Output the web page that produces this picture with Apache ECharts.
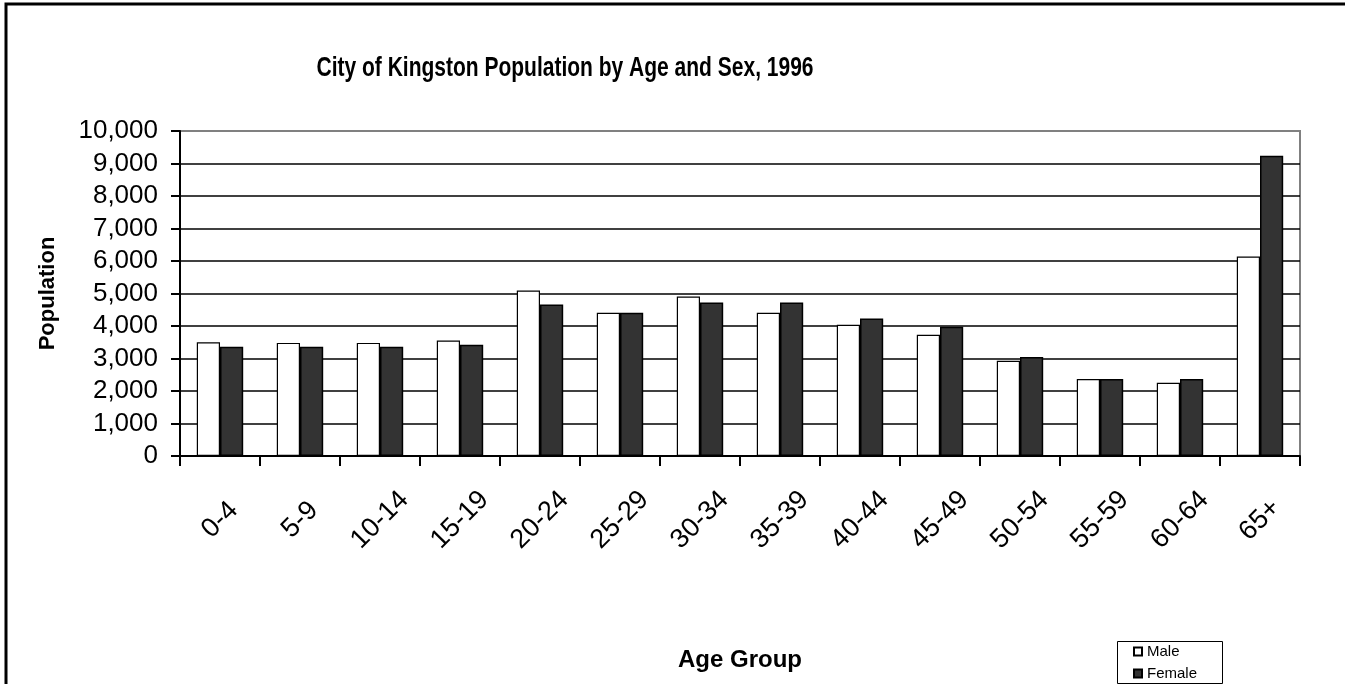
<!DOCTYPE html>
<html>
<head>
<meta charset="utf-8">
<script src="https://cdn.jsdelivr.net/npm/echarts@6/dist/echarts.min.js"></script>
<style>
html,body{margin:0;padding:0;background:#fff;}
#chart{width:1345px;height:684px;}
</style>
</head>
<body>
<div id="chart"></div>
<script>
const categories = ['0-4','5-9','10-14','15-19','20-24','25-29','30-34','35-39','40-44','45-49','50-54','55-59','60-64','65+'];
const maleValues = [3500, 3480, 3480, 3550, 5090, 4410, 4910, 4410, 4040, 3730, 2930, 2370, 2250, 6140];
const femaleValues = [3360, 3360, 3360, 3420, 4660, 4410, 4720, 4720, 4230, 3980, 3050, 2370, 2370, 9240];
const yTicks = [0,1000,2000,3000,4000,5000,6000,7000,8000,9000,10000];
const titleText = 'City of Kingston Population by Age and Sex, 1996';

const chart = echarts.init(document.getElementById('chart'), null, {renderer: 'canvas'});
const font = '"Liberation Sans", Arial, sans-serif';
const splitColors = yTicks.map((v, i) => i === yTicks.length - 1 ? '#808080' : '#000000');
const legendText = {fontFamily: font, fontSize: 15, color: '#000'};

chart.setOption({
  backgroundColor: '#ffffff',
  animation: false,
  graphic: [{
    type: 'rect', shape: {x: 6, y: 4, width: 1400, height: 800},
    style: {fill: 'none', stroke: '#000', lineWidth: 3}, z: 100
  }, {
    type: 'text', x: 565, y: 68, scaleX: 0.75, z: 100,
    style: {text: titleText, font: 'bold 28px "Liberation Sans", Arial, sans-serif',
      fill: '#000', textAlign: 'center', textVerticalAlign: 'middle'}
  }, {
    type: 'rect', shape: {x: 1117.5, y: 641.5, width: 105, height: 42},
    style: {fill: 'none', stroke: '#000', lineWidth: 1}, z: 100
  }],
  legend: [{
    data: ['Male'], left: 1133, top: 644, padding: 0,
    itemWidth: 8, itemHeight: 8, itemGap: 6, textStyle: legendText, icon: 'rect'
  }, {
    data: ['Female'], left: 1133, top: 666, padding: 0,
    itemWidth: 8, itemHeight: 8, itemGap: 6, textStyle: legendText, icon: 'rect'
  }],
  grid: {left: 180, right: 45, top: 131, bottom: 228, show: true, borderColor: '#808080', borderWidth: 2, backgroundColor: 'transparent'},
  xAxis: {
    type: 'category', data: categories, boundaryGap: true,
    name: 'Age Group', nameLocation: 'middle', nameGap: 192,
    nameTextStyle: {fontFamily: font, fontWeight: 'bold', fontSize: 24, color: '#000'},
    axisLine: {lineStyle: {color: '#000', width: 2}},
    axisTick: {show: true, length: 10, lineStyle: {color: '#000', width: 2}},
    axisLabel: {rotate: 45, margin: 64, align: 'center', verticalAlign: 'middle',
      fontFamily: font, fontSize: 27, color: '#000'}
  },
  yAxis: {
    type: 'value', min: 0, max: 10000, interval: 1000,
    name: 'Population', nameLocation: 'middle', nameGap: 121,
    nameTextStyle: {fontFamily: font, fontWeight: 'bold', fontSize: 22, color: '#000'},
    axisLine: {show: true, lineStyle: {color: '#000', width: 2}},
    axisTick: {show: true, length: 9, lineStyle: {color: '#000', width: 2}},
    axisLabel: {margin: 22, fontFamily: font, fontSize: 26, color: '#000',
      formatter: v => v.toLocaleString('en-US')},
    splitLine: {show: true, lineStyle: {color: splitColors, width: 1.5}}
  },
  series: [{
    name: 'Male', type: 'bar', data: maleValues,
    barGap: '0%', barCategoryGap: '42%',
    itemStyle: {color: '#ffffff', borderColor: '#000', borderWidth: 1.2}
  }, {
    name: 'Female', type: 'bar', data: femaleValues,
    itemStyle: {color: '#333333', borderColor: '#000', borderWidth: 1.5}
  }]
});
</script>
</body>
</html>
